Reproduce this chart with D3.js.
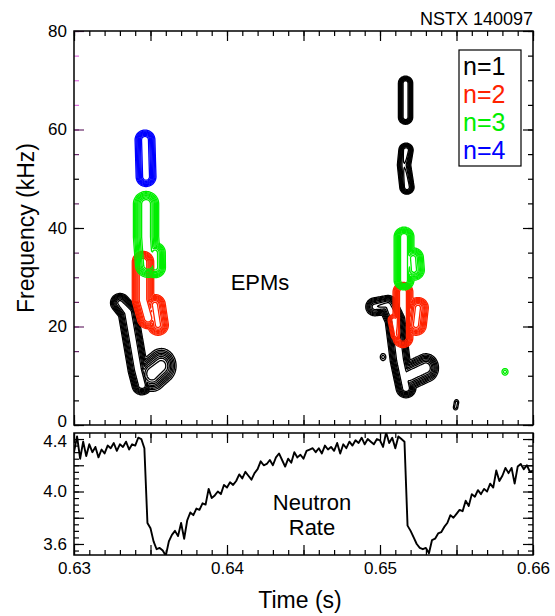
<!DOCTYPE html>
<html>
<head>
<meta charset="utf-8">
<script src="https://cdn.jsdelivr.net/npm/d3@7"></script>
<style>
  body { margin: 0; background: #fff; }
  text { font-family: "Liberation Sans", Arial, Helvetica, sans-serif; fill: #000; }
</style>
</head>
<body>
<svg id="chart" width="555" height="616"></svg>
<script>
// ---- data -------------------------------------------------------------
const shotLabel = "NSTX 140097";
const timeLabels = [0.63, 0.64, 0.65, 0.66];
const freqLabels = [0, 20, 40, 60, 80];
const rateLabels = [3.6, 4.0, 4.4];
const modeNames = ["n=1", "n=2", "n=3", "n=4"];
const modeColors = ["#000000", "#ff2200", "#00ee00", "#0000ff"];

// neutron rate, sampled every 0.2 ms from 0.630 s
const rateT0 = 0.63, rateDt = 0.0002;
const rateValues = [
  4.30, 4.42, 4.25, 4.38, 4.27, 4.36, 4.30, 4.34, 4.26, 4.32,
  4.29, 4.35, 4.33, 4.37, 4.31, 4.36, 4.34, 4.38, 4.32, 4.36,
  4.35, 4.41, 4.40, 4.33, 3.76, 3.72, 3.62, 3.56, 3.57, 3.55,
  3.51, 3.62, 3.67, 3.70, 3.66, 3.76, 3.64, 3.78, 3.84, 3.82,
  3.87, 3.86, 3.91, 3.90, 4.02, 3.95, 3.97, 4.00, 3.98, 4.05,
  4.03, 4.07, 4.05, 4.08, 4.13, 4.10, 4.15, 4.12, 4.09, 4.14,
  4.17, 4.23, 4.20, 4.21, 4.24, 4.20, 4.26, 4.29, 4.24, 4.19,
  4.25, 4.22, 4.30, 4.26, 4.28, 4.25, 4.31, 4.32, 4.33, 4.30,
  4.33, 4.29, 4.35, 4.32, 4.34, 4.31, 4.37, 4.29, 4.36, 4.33,
  4.38, 4.35, 4.39, 4.37, 4.41, 4.36, 4.40, 4.38, 4.36, 4.40,
  4.39, 4.34, 4.45, 4.37, 4.41, 4.33, 4.42, 4.40, 4.38, 3.74,
  3.70, 3.65, 3.60, 3.57, 3.56, 3.57, 3.53, 3.63, 3.64, 3.68,
  3.69, 3.73, 3.76, 3.82, 3.80, 3.83, 3.86, 3.85, 3.93, 3.89,
  3.98, 3.96, 4.01, 3.98, 4.02, 4.00, 4.06, 4.03, 4.16, 4.08,
  4.12, 4.18, 4.14, 4.18, 4.06, 4.19, 4.21, 4.17, 4.20, 4.15, 4.16
];

// spectral ridges of each toroidal mode: points [time s, freq kHz, relative power],
// with spectral spread wt (ms) and wf (kHz)
const ridgesN1 = [
  { pts: [[0.63301, 24.8, 0.9], [0.63353, 22.9, 1], [0.63386, 17.0, 1], [0.63418, 11.2, 1], [0.63444, 8.1, 1]], wt: 0.36, wf: 1.1 },
  { pts: [[0.63510, 10.4, 1], [0.63570, 12.0, 0.95]], wt: 0.55, wf: 2.0 },
  { pts: [[0.65167, 69.4, 1], [0.65167, 62.5, 1]], wt: 0.26, wf: 0.8 },
  { pts: [[0.65170, 55.8, 1], [0.65157, 52.8, 0.8], [0.65176, 48.3, 1]], wt: 0.26, wf: 0.8 },
  { pts: [[0.64967, 24.0, 0.8], [0.65052, 24.4, 0.9], [0.65098, 21.3, 1], [0.65131, 13.2, 1], [0.65170, 7.5, 1]], wt: 0.36, wf: 1.1 },
  { pts: [[0.65190, 10.0, 1], [0.65300, 11.6, 1]], wt: 0.46, wf: 1.6 },
  { pts: [[0.65020, 13.8, 0.3]], wt: 0.2, wf: 0.8 },
  { pts: [[0.65494, 3.6, 0.3], [0.65500, 4.6, 0.3]], wt: 0.16, wf: 0.6 }
];
const ridgesN2 = [
  { pts: [[0.63451, 33.1, 1], [0.63451, 25.4, 1], [0.63484, 21.7, 1]], wt: 0.39, wf: 1.2 },
  { pts: [[0.63529, 24.4, 0.9], [0.63549, 20.3, 0.9]], wt: 0.39, wf: 1.2 },
  { pts: [[0.65150, 27.0, 1], [0.65150, 17.7, 1]], wt: 0.36, wf: 1.1 },
  { pts: [[0.65248, 23.8, 0.9], [0.65235, 20.3, 0.9]], wt: 0.39, wf: 1.2 },
  { pts: [[0.65092, 21.3, 0.6], [0.65111, 18.3, 0.6]], wt: 0.26, wf: 0.8 }
];
const ridgesN3 = [
  { pts: [[0.63471, 44.9, 1], [0.63471, 38.2, 1], [0.63484, 32.5, 1]], wt: 0.46, wf: 1.4 },
  { pts: [[0.63529, 35.0, 0.9], [0.63530, 32.0, 0.9]], wt: 0.39, wf: 1.2 },
  { pts: [[0.65157, 38.2, 1], [0.65157, 29.4, 1]], wt: 0.36, wf: 1.1 },
  { pts: [[0.65216, 33.9, 0.9], [0.65222, 31.5, 0.9]], wt: 0.39, wf: 1.2 },
  { pts: [[0.65817, 10.8, 0.3]], wt: 0.22, wf: 0.75 }
];
const ridgesN4 = [
  { pts: [[0.63464, 57.9, 1], [0.63471, 50.4, 1]], wt: 0.36, wf: 1.1 }
];
const modeRidges = [ridgesN1, ridgesN2, ridgesN3, ridgesN4];
const contourLevels = [0.2, 0.27, 0.34, 0.42, 0.5, 0.6, 0.7, 0.82];

// ---- layout -----------------------------------------------------------
const svg = d3.select("#chart");
const L = 74, R = 533;
const topY0 = 31, topY1 = 425;
const botY0 = 433, botY1 = 555;

const x = d3.scaleLinear().domain([0.63, 0.66]).range([L, R]);
const yF = d3.scaleLinear().domain([0, 80]).range([topY1, topY0]);
const yN = d3.scaleLinear().domain([3.516, 4.446]).range([botY1, botY0]);

const minorTimes = d3.range(0, 31).map(i => 0.63 + i * 0.001);
const majorTimes = d3.range(0, 7).map(i => 0.63 + i * 0.005);

// ---- contour field ------------------------------------------------------
const gw = Math.round(R - L), gh = Math.round(topY1 - topY0);

function modeField(ridges) {
  const vals = new Float64Array(gw * gh);
  const segs = [];
  ridges.forEach(r => {
    const wt = r.wt / 1000, wf = r.wf;
    const p = r.pts.length === 1 ? [r.pts[0], r.pts[0]] : r.pts;
    for (let k = 0; k < p.length - 1; k++) {
      segs.push({ a: p[k], b: p[k + 1], wt, wf });
    }
  });
  for (let j = 0; j < gh; j++) {
    const f = yF.invert(topY0 + j + 0.5);
    for (let i = 0; i < gw; i++) {
      const t = x.invert(L + i + 0.5);
      let best = 0;
      for (const s of segs) {
        const ax = s.a[0] / s.wt, ay = s.a[1] / s.wf;
        const bx = s.b[0] / s.wt, by = s.b[1] / s.wf;
        const px = t / s.wt, py = f / s.wf;
        const dx = bx - ax, dy = by - ay;
        const len2 = dx * dx + dy * dy;
        let u = len2 > 0 ? ((px - ax) * dx + (py - ay) * dy) / len2 : 0;
        u = Math.max(0, Math.min(1, u));
        const qx = ax + u * dx - px, qy = ay + u * dy - py;
        const d2 = qx * qx + qy * qy;
        if (d2 > 16) continue;
        const amp = s.a[2] + u * (s.b[2] - s.a[2]);
        const v = amp * Math.exp(-d2 / 2);
        if (v > best) best = v;
      }
      vals[j * gw + i] = best;
    }
  }
  return vals;
}

const gridPath = d3.geoPath(d3.geoIdentity().translate([L, topY0]));
const contourGen = d3.contours().size([gw, gh]).thresholds(contourLevels);

const gContours = svg.append("g");
modeRidges.forEach((ridges, m) => {
  const field = modeField(ridges);
  gContours.append("g")
    .selectAll("path")
    .data(contourGen(field))
    .join("path")
    .attr("d", gridPath)
    .attr("fill", "none")
    .attr("stroke", modeColors[m])
    .attr("stroke-width", 1.3)
    .attr("stroke-linejoin", "round");
});

// ---- axes helpers -------------------------------------------------------
function ticks(g, axisFn, scale, values, size, fmt) {
  const ax = axisFn(scale).tickValues(values).tickSize(size).tickPadding(7)
    .tickFormat(fmt || (() => ""));
  g.call(ax);
  g.select(".domain").remove();
  g.selectAll(".tick line").attr("stroke", "#000").attr("stroke-width", 1.2);
  g.selectAll(".tick text").style("font-size", "17px").attr("fill", "#000");
  return g;
}

// top panel
ticks(svg.append("g").attr("transform", `translate(0,${topY1})`), d3.axisBottom, x, minorTimes, -5);
ticks(svg.append("g").attr("transform", `translate(0,${topY1})`), d3.axisBottom, x, majorTimes, -10);
ticks(svg.append("g").attr("transform", `translate(0,${topY0})`), d3.axisTop, x, minorTimes, -5);
ticks(svg.append("g").attr("transform", `translate(0,${topY0})`), d3.axisTop, x, majorTimes, -10);

const minorFreq = d3.range(0, 81, 5);
const freqTickColor = { 80: "#6a2a6a", 75: "#e070e0", 70: "#e070e0", 65: "#e070e0", 60: "#6a2a6a",
  55: "#6a2a6a", 45: "#6a2a6a", 35: "#6a2a6a", 30: "#6a2a6a", 25: "#6a2a6a", 20: "#6a2a6a", 15: "#6a2a6a" };
const gLeftMinor = ticks(svg.append("g").attr("transform", `translate(${L},0)`), d3.axisLeft, yF, minorFreq, -5);
const gLeftMajor = ticks(svg.append("g").attr("transform", `translate(${L},0)`), d3.axisLeft, yF, freqLabels, -10, d3.format("d"));
[gLeftMinor, gLeftMajor].forEach(g => g.selectAll(".tick line").attr("stroke", d => freqTickColor[d] || "#000"));
// lift the zero label clear of the lower panel's top label
gLeftMajor.selectAll(".tick text").filter(d => d === 0).attr("dy", "0.1em");
ticks(svg.append("g").attr("transform", `translate(${R},0)`), d3.axisRight, yF, minorFreq, -5);
ticks(svg.append("g").attr("transform", `translate(${R},0)`), d3.axisRight, yF, freqLabels, -10);

// bottom panel
const minorRate = d3.range(0, 19).map(i => 3.55 + i * 0.05).filter(v => v <= 4.446);
const majorRate = [3.6, 3.8, 4.0, 4.2, 4.4];
ticks(svg.append("g").attr("transform", `translate(0,${botY1})`), d3.axisBottom, x, minorTimes, -5);
ticks(svg.append("g").attr("transform", `translate(0,${botY1})`), d3.axisBottom, x, majorTimes, -10);
ticks(svg.append("g").attr("transform", `translate(0,${botY1})`), d3.axisBottom, x, timeLabels, 0, d3.format(".2f"));
ticks(svg.append("g").attr("transform", `translate(0,${botY0})`), d3.axisTop, x, minorTimes, -5);
ticks(svg.append("g").attr("transform", `translate(0,${botY0})`), d3.axisTop, x, majorTimes, -10);
ticks(svg.append("g").attr("transform", `translate(${L},0)`), d3.axisLeft, yN, minorRate, -5);
ticks(svg.append("g").attr("transform", `translate(${L},0)`), d3.axisLeft, yN, majorRate, -10);
const gRateLab = ticks(svg.append("g").attr("transform", `translate(${L},0)`), d3.axisLeft, yN, rateLabels, 0, d3.format(".1f"));
gRateLab.selectAll(".tick text").filter(d => d === 4.4).attr("dy", "0.42em");
ticks(svg.append("g").attr("transform", `translate(${R},0)`), d3.axisRight, yN, minorRate, -5);
ticks(svg.append("g").attr("transform", `translate(${R},0)`), d3.axisRight, yN, majorRate, -10);

// neutron rate trace
svg.append("clipPath").attr("id", "botClip").append("rect")
  .attr("x", L).attr("y", botY0).attr("width", R - L).attr("height", botY1 - botY0);
const line = d3.line().x((d, i) => x(rateT0 + i * rateDt)).y(d => yN(d));
svg.append("path").datum(rateValues)
  .attr("clip-path", "url(#botClip)")
  .attr("d", line)
  .attr("fill", "none").attr("stroke", "#000").attr("stroke-width", 1.9)
  .attr("stroke-linejoin", "round");

// frames
[[topY0, topY1], [botY0, botY1]].forEach(([a, b]) => {
  svg.append("rect").attr("x", L).attr("y", a).attr("width", R - L).attr("height", b - a)
    .attr("fill", "none").attr("stroke", "#000").attr("stroke-width", 1.5);
});

// legend
const legX = 459, legY = 50;
svg.append("rect").attr("x", legX).attr("y", legY).attr("width", 62).attr("height", 116)
  .attr("fill", "#fff").attr("stroke", "#000").attr("stroke-width", 1.2);
modeNames.forEach((n, i) => {
  svg.append("text").attr("x", legX + 4).attr("y", legY + 25 + i * 28)
    .style("font-size", "25px").style("fill", modeColors[i]).text(n);
});

// text annotations
svg.append("text").attr("x", R).attr("y", 25).attr("text-anchor", "end")
  .style("font-size", "18px").text(shotLabel);
svg.append("text").attr("x", 260).attr("y", 290).attr("text-anchor", "middle")
  .style("font-size", "22px").text("EPMs");
svg.append("text").attr("x", 312).attr("y", 510).attr("text-anchor", "middle")
  .style("font-size", "22px").text("Neutron");
svg.append("text").attr("x", 312).attr("y", 535).attr("text-anchor", "middle")
  .style("font-size", "22px").text("Rate");
svg.append("text").attr("x", 300).attr("y", 608).attr("text-anchor", "middle")
  .style("font-size", "23px").text("Time (s)");
svg.append("text").attr("transform", `translate(34,${(topY0 + topY1) / 2}) rotate(-90)`)
  .attr("text-anchor", "middle").style("font-size", "23px").text("Frequency (kHz)");
</script>
</body>
</html>
